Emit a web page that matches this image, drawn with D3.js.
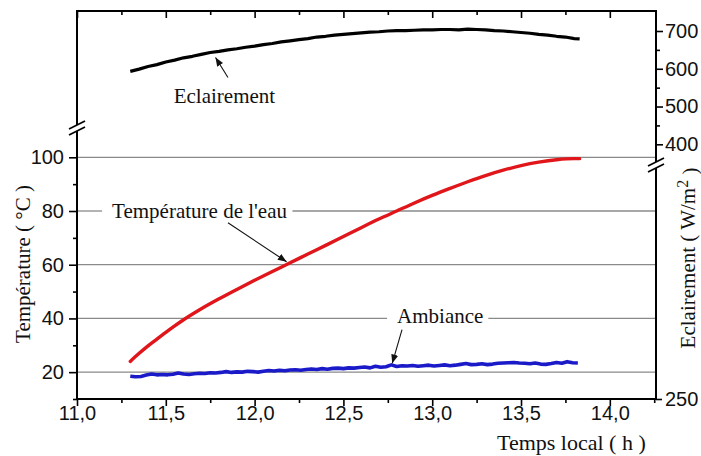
<!DOCTYPE html>
<html><head><meta charset="utf-8">
<script src="https://cdn.jsdelivr.net/npm/d3@7"></script>
<style>body{margin:0;background:#fff}svg{display:block}</style>
</head><body>
<svg id="c" width="701" height="456"></svg>
<script>
// ---------- data ----------
const tempTime = [11.30,11.35,11.40,11.45,11.50,11.55,11.60,11.70,11.80,11.90,12.00,12.10,12.20,12.30,12.40,12.50,12.60,12.70,12.80,12.90,13.00,13.10,13.20,13.30,13.40,13.50,13.60,13.70,13.80,13.83];
const tempWater = [24.0,27.0,29.8,32.3,34.8,37.2,39.5,43.6,47.3,50.8,54.2,57.5,60.7,64.0,67.2,70.5,73.8,77.0,80.0,83.0,85.8,88.4,90.9,93.2,95.2,96.9,98.2,99.1,99.5,99.5];

const eclTime = [11.30,11.35,11.40,11.45,11.50,11.55,11.60,11.65,11.70,11.75,11.80,11.85,11.90,11.95,12.00,12.05,12.10,12.15,12.20,12.25,12.30,12.35,12.40,12.45,12.50,12.55,12.60,12.65,12.70,12.75,12.80,12.85,12.90,12.95,13.00,13.05,13.10,13.15,13.20,13.25,13.30,13.35,13.40,13.45,13.50,13.55,13.60,13.65,13.70,13.75,13.80,13.83];
const eclValue = [593,599,606,611,618,623,629,633,638,643,646,650,653,657,660,664,667,671,674,677,680,684,686,689,691,693,695,697,698,700,701,701,702,703,703,704,704,703,705,704,703,701,700,698,696,694,691,689,686,684,680,679];

const ambTime = [11.30,11.33,11.36,11.39,11.42,11.45,11.48,11.51,11.54,11.57,11.60,11.63,11.66,11.69,11.72,11.75,11.78,11.81,11.84,11.87,11.90,11.93,11.96,11.99,12.02,12.05,12.08,12.11,12.14,12.17,12.20,12.23,12.26,12.29,12.32,12.35,12.38,12.41,12.44,12.47,12.50,12.53,12.56,12.59,12.62,12.65,12.68,12.71,12.74,12.77,12.80,12.83,12.86,12.89,12.92,12.95,12.98,13.01,13.04,13.07,13.10,13.13,13.16,13.19,13.22,13.25,13.28,13.31,13.34,13.37,13.40,13.43,13.46,13.49,13.52,13.55,13.58,13.61,13.64,13.67,13.70,13.73,13.76,13.79,13.82];
const ambValue = [18.5,18.3,18.4,18.9,19.3,19.0,19.1,19.0,19.2,19.7,19.3,19.1,19.4,19.6,19.5,19.8,19.7,19.9,20.2,19.9,20.1,20.0,20.3,20.2,20.0,20.3,20.6,20.4,20.7,20.5,20.8,20.9,20.7,21.0,21.2,21.0,21.3,21.1,21.4,21.5,21.3,21.6,21.5,21.7,21.9,21.6,22.2,21.8,22.0,22.7,22.1,22.4,22.3,22.5,22.2,22.4,22.6,22.3,22.5,22.7,22.4,22.6,22.9,23.2,22.8,22.9,23.1,22.8,23.0,23.3,23.4,23.5,23.6,23.4,23.3,23.1,23.4,23.0,22.9,23.2,23.6,23.3,23.9,23.5,23.4];

const xMajor = [11.0,11.5,12.0,12.5,13.0,13.5,14.0];
const xLabels = ["11,0","11,5","12,0","12,5","13,0","13,5","14,0"];
const xMinor = [11.25,11.75,12.25,12.75,13.25,13.75,14.25];
const tMajor = [20,40,60,80,100];
const tMinor = [10,30,50,70,90];
const eMajor = [400,500,600,700];
const eMinor = [450,550,650];
const eLow = [250];

// ---------- scales ----------
const svg = d3.select("#c");
const L=77, R=656, T=11, B=399;
const x = d3.scaleLinear().domain([11, 14.26]).range([L, R]);
const yT = d3.scaleLinear().domain([10, 100]).range([B, 157.3]);
const yE = d3.scaleLinear().domain([400, 700]).range([144.3, 31]);
const yELow = d3.scaleLinear().domain([250, 345]).range([B, 165]);

const sansFont = "Liberation Sans, Arial, sans-serif";
const serifFont = "Liberation Serif, Times New Roman, serif";

svg.append("defs").append("marker")
  .attr("id","arr").attr("viewBox","0 0 10 8").attr("refX",10).attr("refY",4)
  .attr("markerWidth",9).attr("markerHeight",7).attr("markerUnits","userSpaceOnUse")
  .attr("orient","auto")
  .append("path").attr("d","M0,0 L10,4 L0,8 z").attr("fill","#111");

// ---------- annotation texts (need bbox for gridline gaps) ----------
const annG = svg.append("g").attr("font-family", serifFont).attr("font-size", 21).attr("fill","#111");
const tLab = annG.append("text").attr("x", x(11.69)).attr("y", yT(80)).attr("dy","0.32em")
  .attr("text-anchor","middle").text("Température de l'eau");
const aLab = annG.append("text").attr("x", x(13.045)).attr("y", yT(40.7)).attr("dy","0.32em")
  .attr("text-anchor","middle").text("Ambiance");
const eLab = annG.append("text").attr("x", x(11.83)).attr("y", yE(528)).attr("dy","0.32em")
  .attr("text-anchor","middle").text("Eclairement");

// ---------- gridlines ----------
const gridG = svg.insert("g", "g").attr("stroke","#8a8a8a").attr("stroke-width",1.3);
const gaps = {80: tLab.node().getBBox(), 40: aLab.node().getBBox()};
tMajor.forEach(v => {
  const yy = yT(v);
  if (gaps[v]) {
    const b = gaps[v];
    gridG.append("line").attr("x1",L).attr("x2",b.x-10).attr("y1",yy).attr("y2",yy);
    gridG.append("line").attr("x1",b.x+b.width+5).attr("x2",R).attr("y1",yy).attr("y2",yy);
  } else {
    gridG.append("line").attr("x1",L).attr("x2",R).attr("y1",yy).attr("y2",yy);
  }
});

// ---------- curves ----------
const lineT = d3.line().x((d,i)=>x(tempTime[i])).y(d=>yT(d)).curve(d3.curveMonotoneX);
const lineE = d3.line().x((d,i)=>x(eclTime[i])).y(d=>yE(d)).curve(d3.curveLinear);
const lineA = d3.line().x((d,i)=>x(ambTime[i])).y(d=>yT(d)).curve(d3.curveLinear);
svg.append("path").datum(ambValue).attr("d",lineA).attr("fill","none").attr("stroke","#1a1ac8").attr("stroke-width",3.6).attr("stroke-linejoin","round");
svg.append("path").datum(tempWater).attr("d",lineT).attr("fill","none").attr("stroke","#e0161b").attr("stroke-width",3.4).attr("stroke-linecap","round");
svg.append("path").datum(eclValue).attr("d",lineE).attr("fill","none").attr("stroke","#000").attr("stroke-width",3.2).attr("stroke-linejoin","round");

// ---------- arrows ----------
const arrG = svg.append("g").attr("stroke","#111").attr("stroke-width",1.1);
arrG.append("line").attr("x1",x(11.85)).attr("y1",yT(75.6)).attr("x2",x(12.18)).attr("y2",yT(61.1)).attr("marker-end","url(#arr)");
arrG.append("line").attr("x1",x(12.83)).attr("y1",yT(35.8)).attr("x2",x(12.775)).attr("y2",yT(23.3)).attr("marker-end","url(#arr)");
arrG.append("line").attr("x1",x(11.85)).attr("y1",yE(577)).attr("x2",x(11.78)).attr("y2",yE(630)).attr("marker-end","url(#arr)");

// ---------- axes ----------
function style(g, fs){
  g.select(".domain").remove();
  g.attr("font-family", sansFont).attr("font-size", fs);
  g.selectAll("line").attr("stroke","#000").attr("stroke-width",1.6);
  g.selectAll("text").attr("fill","#111");
}
svg.append("g").attr("transform",`translate(0,${B})`)
  .call(d3.axisBottom(x).tickValues(xMajor).tickSize(7).tickPadding(0).tickFormat((d,i)=>xLabels[i])).call(g=>style(g,20));
svg.append("g").attr("transform",`translate(0,${B})`)
  .call(d3.axisBottom(x).tickValues(xMinor).tickSize(4).tickFormat("")).call(g=>style(g,20));
svg.append("g").attr("transform",`translate(0,${T})`)
  .call(d3.axisTop(x).tickValues(xMajor).tickSize(-7).tickFormat("")).call(g=>style(g,20));
svg.append("g").attr("transform",`translate(0,${T})`)
  .call(d3.axisTop(x).tickValues(xMinor.filter(v=>v<14.2)).tickSize(-4).tickFormat("")).call(g=>style(g,20));
svg.append("g").attr("transform",`translate(${L},0)`)
  .call(d3.axisLeft(yT).tickValues(tMajor).tickSize(8).tickPadding(5)).call(g=>style(g,20));
svg.append("g").attr("transform",`translate(${L},0)`)
  .call(d3.axisLeft(yT).tickValues(tMinor).tickSize(4).tickFormat("")).call(g=>style(g,20));
svg.append("g").attr("transform",`translate(${R},0)`)
  .call(d3.axisRight(yE).tickValues(eMajor).tickSize(7).tickPadding(2)).call(g=>style(g,20));
svg.append("g").attr("transform",`translate(${R},0)`)
  .call(d3.axisRight(yE).tickValues(eMinor).tickSize(4).tickFormat("")).call(g=>style(g,20));
svg.append("g").attr("transform",`translate(${R},0)`)
  .call(d3.axisRight(yELow).tickValues(eLow).tickSize(6).tickPadding(3)).call(g=>style(g,20));

// ---------- frame with breaks ----------
const fr = svg.append("g").attr("stroke","#000").attr("stroke-width",2).attr("fill","none");
const lbY = 128, rbY = 165;
fr.append("line").attr("x1",L).attr("x2",R).attr("y1",T).attr("y2",T);
fr.append("line").attr("x1",L-1).attr("x2",R+1).attr("y1",B).attr("y2",B);
fr.append("line").attr("x1",L).attr("x2",L).attr("y1",T-1).attr("y2",lbY-3);
fr.append("line").attr("x1",L).attr("x2",L).attr("y1",lbY+3).attr("y2",B+1);
fr.append("line").attr("x1",R).attr("x2",R).attr("y1",T-1).attr("y2",rbY-3);
fr.append("line").attr("x1",R).attr("x2",R).attr("y1",rbY+3).attr("y2",B+1);
[[L,lbY],[R,rbY]].forEach(([cx,cy])=>{
  [-3,3].forEach(o=>{
    fr.append("line").attr("x1",cx-8).attr("y1",cy+o+4).attr("x2",cx+8).attr("y2",cy+o-4).attr("stroke-width",1.8);
  });
});

// ---------- axis titles ----------
const tg = svg.append("g").attr("font-family", serifFont).attr("font-size", 21).attr("fill","#111");
tg.append("text").attr("x",497).attr("y",450).attr("font-size",22).text("Temps local ( h )");
tg.append("text").attr("transform","translate(30,264) rotate(-90)").attr("text-anchor","middle").text("Température ( °C )");
const rt = tg.append("text").attr("transform","translate(695,258) rotate(-90)").attr("text-anchor","middle");
rt.append("tspan").text("Eclairement ( W/m");
rt.append("tspan").attr("dy","-0.45em").attr("font-size",16).text("2");
rt.append("tspan").attr("dy","0.45em").text(" )");
</script>
</body></html>
